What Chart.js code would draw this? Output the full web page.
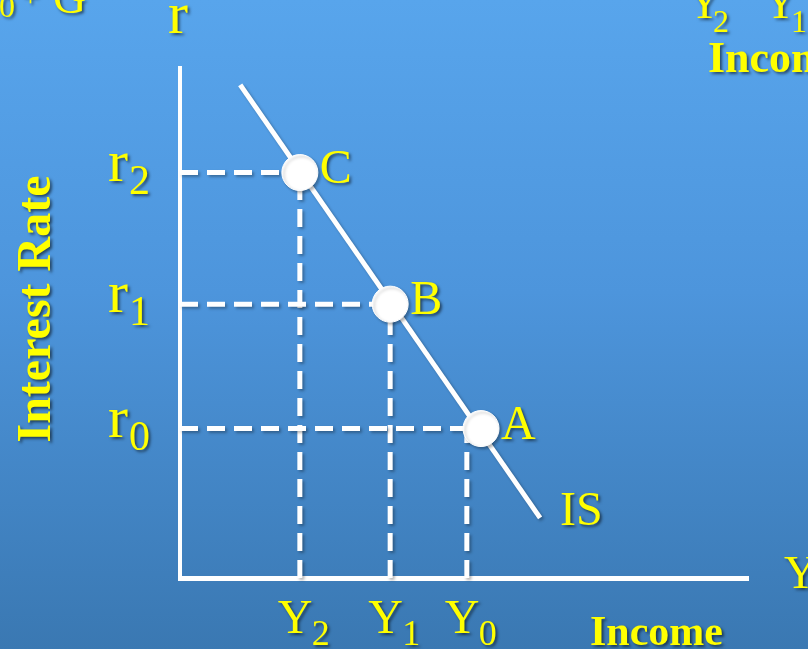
<!DOCTYPE html>
<html>
<head>
<meta charset="utf-8">
<script src="https://cdn.jsdelivr.net/npm/chart.js@4/dist/chart.umd.min.js"></script>
<style>
  html, body { margin: 0; padding: 0; }
  body {
    width: 808px; height: 649px; overflow: hidden;
    background: linear-gradient(to bottom, #58a5ec 0%, #4d95dc 45%, #3a78b2 100%);
  }
  #wrap { position: relative; width: 808px; height: 649px; }
</style>
</head>
<body>
<div id="wrap"><canvas id="myChart"></canvas></div>
<script>
// IS curve data (abstract units)
const pointNames  = ['A', 'B', 'C'];
const pointIncome = [5.30, 3.70, 2.11];
const pointRate   = [2.93, 5.37, 7.95];

// where the dashed drop lines meet the income axis
const incomeTicks = [2.11, 3.70, 5.05];
const incomeSubs  = ['2', '1', '0'];

const rateTicks = [2.93, 5.37, 7.95];
const rateSubs  = ['0', '1', '2'];

// IS line end points
const isIncome = [1.06, 6.34];
const isRate   = [9.67, 1.18];

const yellow = '#ffff00';
const serif = '"Liberation Serif", "DejaVu Serif", serif';

document.addEventListener('DOMContentLoaded', () => {

    let datasets = [];

    // dashed guides: horizontal from rate axis to the point, vertical from income axis up
    for (let i = 0; i < pointNames.length; i++) {
        datasets.push({
            type: 'line', order: 2,
            data: [{ x: 0, y: rateTicks[i] }, { x: pointIncome[i], y: rateTicks[i] }],
            borderColor: '#ffffff', borderWidth: 5, borderDash: [18, 9],
            pointRadius: 0, fill: false
        });
        datasets.push({
            type: 'line', order: 2,
            data: [{ x: incomeTicks[2 - i], y: 0 }, { x: incomeTicks[2 - i], y: rateTicks[i] }],
            borderColor: '#ffffff', borderWidth: 5, borderDash: [18, 9],
            pointRadius: 0, fill: false
        });
    }

    // the IS line
    datasets.push({
        type: 'line', order: 1,
        data: isIncome.map((v, i) => ({ x: v, y: isRate[i] })),
        borderColor: '#ffffff', borderWidth: 5,
        pointRadius: 0, fill: false
    });

    // the points A, B, C
    datasets.push({
        type: 'scatter', order: 0,
        data: pointIncome.map((v, i) => ({ x: v, y: pointRate[i] })),
        backgroundColor: '#ffffff', borderColor: '#ffffff', borderWidth: 1,
        pointRadius: 18, pointHoverRadius: 18
    });

    function drawText(ctx, str, x, y, size, bold) {
        ctx.font = (bold ? 'bold ' : '') + size + 'px ' + serif;
        ctx.fillText(str, x, y);
    }

    const labelsPlugin = {
        id: 'labels',
        beforeDatasetsDraw(chart) {
            const ctx = chart.ctx;
            ctx.shadowColor = 'rgba(0,0,0,0.3)';
            ctx.shadowOffsetX = 2;
            ctx.shadowOffsetY = 2;
            ctx.shadowBlur = 3;
        },
        afterDraw(chart) {
            const ctx = chart.ctx;
            const xs = chart.scales.x;
            const ys = chart.scales.y;
            ctx.save();
            ctx.fillStyle = yellow;
            ctx.textAlign = 'left';
            ctx.textBaseline = 'alphabetic';
            ctx.shadowColor = 'rgba(0,0,0,0.55)';
            ctx.shadowOffsetX = 2;
            ctx.shadowOffsetY = 2;
            ctx.shadowBlur = 3;

            // rate tick labels r0, r1, r2
            rateTicks.forEach((v, i) => {
                const py = ys.getPixelForValue(v);
                drawText(ctx, 'r', 108, py + 8, 60, false);
                drawText(ctx, rateSubs[i], 129, py + 21, 42, false);
            });

            // income tick labels Y2, Y1, Y0
            incomeTicks.forEach((v, i) => {
                const px = xs.getPixelForValue(v);
                drawText(ctx, 'Y', px - 22, 633, 48, false);
                drawText(ctx, incomeSubs[i], px + 12, 645, 36, false);
            });

            // point names
            pointNames.forEach((n, i) => {
                const px = xs.getPixelForValue(pointIncome[i]);
                const py = ys.getPixelForValue(pointRate[i]);
                drawText(ctx, n, px + 20, py + 10, 48, false);
            });

            // IS label
            drawText(ctx, 'IS', xs.getPixelForValue(isIncome[1]) + 20, ys.getPixelForValue(isRate[1]) + 7, 48, false);

            // axis names
            drawText(ctx, 'r', 168, 33, 60, false);
            drawText(ctx, 'Y', 784, 588, 46, false);
            drawText(ctx, 'Income', 590, 645, 42, true);

            ctx.save();
            ctx.translate(50, 309);
            ctx.rotate(-Math.PI / 2);
            ctx.textAlign = 'center';
            drawText(ctx, 'Interest Rate', 0, 0, 48, true);
            ctx.restore();

            // bits of the neighbouring slide content, cut by the frame
            drawText(ctx, '0', -1, 17, 32, false);
            drawText(ctx, '+', 22, 6, 30, false);
            drawText(ctx, 'G', 53, 13, 46, false);
            drawText(ctx, 'Y', 688, 18, 46, false);
            drawText(ctx, '2', 713, 32, 32, false);
            drawText(ctx, 'Y', 764, 18, 46, false);
            drawText(ctx, '1', 791, 32, 32, false);
            drawText(ctx, 'Incom', 708, 72, 44, true);

            ctx.restore();
        }
    };

    const ctx = document.getElementById('myChart');
    const myChart = new Chart(ctx, {
        type: 'scatter',
        data: { datasets: datasets },
        options: {
            responsive: true,
            maintainAspectRatio: false,
            animation: false,
            clip: false,
            layout: { padding: { left: 180, right: 60, top: 68, bottom: 71 } },
            plugins: {
                legend: { display: false },
                tooltip: { enabled: false }
            },
            scales: {
                x: {
                    type: 'linear', min: 0, max: 10,
                    ticks: { display: false },
                    grid: { display: false, drawTicks: false },
                    border: { display: true, color: '#ffffff', width: 5 }
                },
                y: {
                    type: 'linear', min: 0, max: 10,
                    ticks: { display: false },
                    grid: { display: false, drawTicks: false },
                    border: { display: true, color: '#ffffff', width: 4 }
                }
            }
        },
        plugins: [labelsPlugin]
    });
});
</script>
</body>
</html>
